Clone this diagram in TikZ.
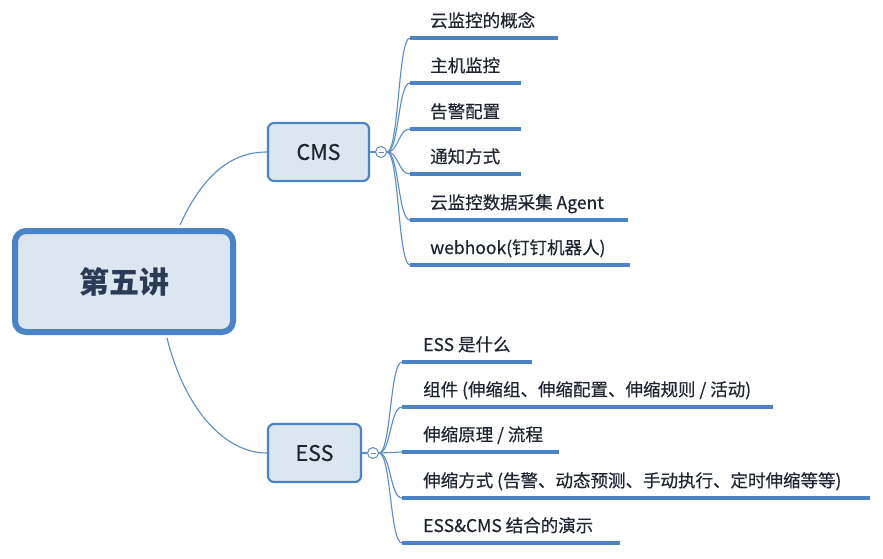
\documentclass[tikz,border=0pt]{standalone}
\usepackage{fontspec}
\setmainfont[FakeBold=0.4]{Noto Sans CJK SC}
\newfontfamily\rootfont{Noto Sans CJK SC}
\definecolor{bord}{HTML}{4B84C4}
\definecolor{boxfill}{HTML}{DCE6F1}
\definecolor{link}{HTML}{5A8CC6}
\definecolor{txt}{HTML}{1E2430}
\definecolor{roottxt}{HTML}{2B3A55}
\tikzset{
  rootbox/.style={draw=bord, line width=6pt, fill=boxfill, rounded corners=11pt, minimum width=218pt, minimum height=101pt, inner sep=0pt, text=roottxt, font=\rootfont\bfseries\fontsize{30}{34}\selectfont},
  subbox/.style={draw=bord, line width=2.2pt, fill=boxfill, rounded corners=6pt, minimum height=58pt, inner sep=0pt, text=txt, font=\fontsize{21.5}{24}\selectfont},
  knob/.style={circle, draw=link!80!gray, line width=1pt, fill=white, minimum size=11pt, inner sep=0pt},
  leaf/.style={anchor=base west, inner sep=0pt, text=txt, font=\fontsize{17.5}{20}\selectfont},
  uline/.style={draw=bord, line width=3.6pt},
  branch/.style={draw=link, line width=1.1pt},
}
\begin{document}
\begin{tikzpicture}[x=1pt,y=-1pt]
\useasboundingbox (0,0) rectangle (883,558);
\fill[white] (0,0) rectangle (883,558);
% main nodes
\node[rootbox] (root) at (124,281.5) {第五讲};
\node[subbox, minimum width=101pt] (cms) at (318.5,152) {CMS};
\node[subbox, minimum width=93pt] (ess) at (314.5,453) {ESS};
% root connectors
\coordinate (rt) at ([xshift=56pt,yshift=3pt]root.north);
\coordinate (rb) at ([xshift=43pt,yshift=-3pt]root.south);
\draw[branch] (rt) .. controls (205,170) and (235,152) .. (cms.west);
\draw[branch] (rb) .. controls (185,410) and (225,453) .. (ess.west);
% knobs
\node[knob] (kc) at (381,152) {};
\node[knob] (ke) at (373,453) {};
\draw[line width=1pt, link!80!gray] ([xshift=-2.5pt]kc.center) -- ([xshift=2.5pt]kc.center);
\draw[line width=1pt, link!80!gray] ([xshift=-2.5pt]ke.center) -- ([xshift=2.5pt]ke.center);
\draw[branch] (cms.east) -- (kc.west);
\draw[branch] (ess.east) -- (ke.west);
% CMS children
\foreach \n/\y/\e/\t in {c1/38/558/{云监控的概念}, c2/83/521/{主机监控}, c3/129/521/{告警配置}, c4/174/521/{通知方式}, c5/220/628/{云监控数据采集 Agent}, c6/265/630/{webhook(钉钉机器人)}}{
  \coordinate (\n s) at (410,\y);
  \coordinate (\n e) at (\e,\y);
  \draw[branch] (kc.east) .. controls (399,152) and (398,\y) .. (\n s);
  \draw[uline] (\n s) -- (\n e);
  \node[leaf] (\n) at (430,\y-11) {\t};
}
% ESS children
\foreach \n/\y/\e/\t in {e1/362/532/{ESS 是什么}, e2/407/773/{组件 (伸缩组、伸缩配置、伸缩规则 / 活动)}, e3/452/559/{伸缩原理 / 流程}, e4/498/870/{伸缩方式 (告警、动态预测、手动执行、定时伸缩等等)}, e5/543/620/{ESS\&CMS 结合的演示}}{
  \coordinate (\n s) at (402,\y);
  \coordinate (\n e) at (\e,\y);
  \draw[branch] (ke.east) .. controls (391,453) and (390,\y) .. (\n s);
  \draw[uline] (\n s) -- (\n e);
  \node[leaf] (\n) at (423,\y-11) {\t};
}
\end{tikzpicture}
\end{document}
